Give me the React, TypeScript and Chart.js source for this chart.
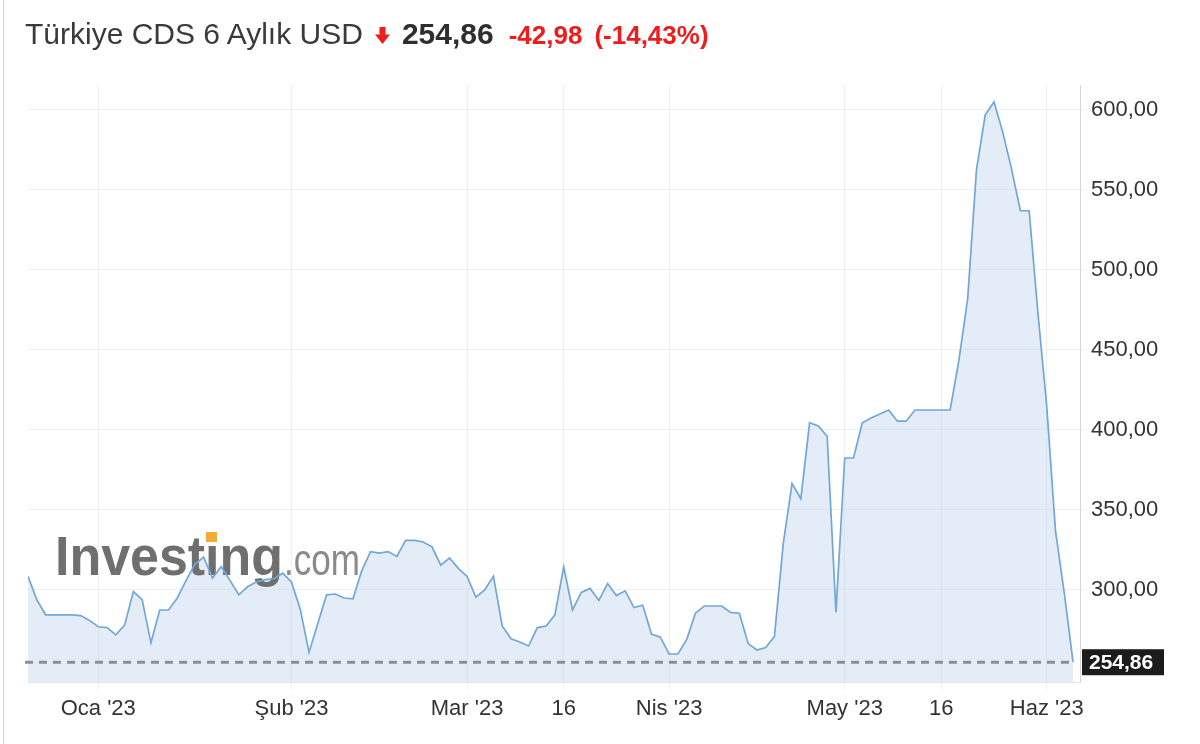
import React, { useEffect, useRef } from "react";
import { Chart, registerables } from "chart.js";

Chart.register(...registerables);

const TITLE = "Türkiye CDS 6 Aylık USD";
const LAST_VALUE = 254.86;
const CHANGE = -42.98;
const CHANGE_PCT = -14.43;

const VALUES: number[] = [
  308.5, 294, 284.5, 284.5, 284.5, 284.5, 284, 281, 277, 276.5,
  272, 278, 299, 294, 267, 287.5, 287.5, 295, 306, 316,
  320.5, 307.5, 314.5, 306, 297, 302, 305, 306.5, 307, 310.5,
  305, 288, 261, 279, 297, 297.5, 295, 294.5, 312, 324,
  323, 324, 321, 331, 331, 330, 327, 315.5, 320, 313.5,
  308.5, 295.5, 300, 308.5, 277.5, 269.5, 267.5, 265, 276.5, 277.5,
  284.5, 314.5, 287.5, 298.5, 301, 293.5, 304, 296.5, 299.5, 289,
  290.5, 272.5, 270.5, 260, 260, 269, 285.5, 290, 290, 290,
  286, 285.5, 266.5, 262.5, 264, 271, 329, 366.5, 357, 404.5,
  402.5, 396, 286, 382.5, 382.5, 404.5, 407.5, 410, 412.5, 405.5,
  405.5, 412.5, 412.5, 412.5, 412.5, 412.5, 443.5, 482, 562.5, 597,
  605, 586, 563, 537, 537, 473, 415, 337, 298, 254.86,
];

const X_TICK_INDEX = [8, 30, 50, 61, 73, 93, 104, 116];
const X_TICK_LABELS = ["Oca '23", "Şub '23", "Mar '23", "16", "Nis '23", "May '23", "16", "Haz '23"];
const Y_TICKS = [300, 350, 400, 450, 500, 550, 600];
const Y_MIN = 242.5;
const Y_MAX = 615.6;

const FONT = '"Liberation Sans", Arial, Helvetica, sans-serif';
const fmt = (v: number) => v.toFixed(2).replace(".", ",");

export default function App() {
  const ref = useRef<HTMLCanvasElement | null>(null);

  useEffect(() => {
    if (!ref.current) return;

    const overlay = {
      id: "overlay",
      afterDatasetDraw(chart: any, args: any) {
        if (args.index !== 0) return;
        const { ctx, chartArea, scales } = chart;
        ctx.save();
        // watermark
        ctx.textBaseline = "alphabetic";
        ctx.fillStyle = "#6f6f6f";
        ctx.font = `bold 56px ${FONT}`;
        ctx.fillText("Investing", chartArea.left + 27, 575, 228);
        ctx.fillStyle = "#8a8a8a";
        ctx.font = `44px ${FONT}`;
        ctx.fillText(".com", chartArea.left + 256, 575, 76);
        ctx.fillStyle = "#f5a938";
        ctx.fillRect(chartArea.left + 178, 532, 11, 10);
        // dashed last value line
        const y = scales.y.getPixelForValue(LAST_VALUE);
        const x1 = scales.x.getPixelForValue(VALUES.length - 1);
        ctx.setLineDash([8, 6]);
        ctx.lineWidth = 3;
        ctx.strokeStyle = "#8e8e8e";
        ctx.beginPath();
        ctx.moveTo(chartArea.left - 3, y);
        ctx.lineTo(x1, y);
        ctx.stroke();
        ctx.restore();
      },
      afterDraw(chart: any) {
        const { ctx, chartArea, scales } = chart;
        const y = scales.y.getPixelForValue(LAST_VALUE);
        ctx.save();
        ctx.fillStyle = "#1c1c1c";
        ctx.fillRect(chartArea.right + 2, y - 13, 82, 26);
        ctx.fillStyle = "#ffffff";
        ctx.font = `bold 21px ${FONT}`;
        ctx.textBaseline = "middle";
        ctx.fillText(fmt(LAST_VALUE), chartArea.right + 9, y + 1);
        ctx.restore();
      },
    };

    const points = VALUES.map((v, i) => ({ x: i, y: v }));

    const chart = new Chart(ref.current, {
      type: "line",
      data: {
        datasets: [
          {
            data: points,
            order: 2,
            fill: "start",
            backgroundColor: "rgba(196,216,238,0.45)",
            borderWidth: 0,
            pointRadius: 0,
          },
          {
            data: points,
            order: 1,
            fill: false,
            borderColor: "#72a7d8",
            borderWidth: 1.7,
            pointRadius: 0,
          },
        ],
      },
      options: {
        animation: false,
        responsive: false,
        maintainAspectRatio: false,
        layout: { padding: { left: 28, top: 85, right: 0, bottom: 20 } },
        plugins: {
          legend: { display: false },
          tooltip: { enabled: false },
        },
        scales: {
          x: {
            type: "linear",
            min: 0,
            max: VALUES.length - 1 + 0.79,
            afterBuildTicks: (s: any) => {
              s.ticks = X_TICK_INDEX.map((v) => ({ value: v }));
            },
            afterFit: (s: any) => {
              s.height = 42;
            },
            ticks: {
              autoSkip: false,
              maxRotation: 0,
              padding: 6,
              color: "#333333",
              font: { family: FONT, size: 22 },
              callback: (_v: any, i: number) => X_TICK_LABELS[i] ?? "",
            },
            grid: { color: "#eeeeee", tickLength: 8, drawTicks: true },
            border: { display: true, color: "#e6e6e6" },
          },
          y: {
            position: "right",
            min: Y_MIN,
            max: Y_MAX,
            afterBuildTicks: (s: any) => {
              s.ticks = Y_TICKS.map((v) => ({ value: v }));
            },
            afterFit: (s: any) => {
              s.width = 120;
            },
            ticks: {
              padding: 5,
              color: "#333333",
              font: { family: FONT, size: 22 },
              callback: (v: any) => fmt(Number(v)),
            },
            grid: { color: "#f0f0f0", tickLength: 6, drawTicks: true },
            border: { display: true, color: "#d6d6d6" },
          },
        },
      },
      plugins: [overlay],
    } as any);

    return () => chart.destroy();
  }, []);

  const red = "#ee1c1c";

  return (
    <div
      style={{
        position: "absolute",
        left: 0,
        top: 0,
        width: 1200,
        height: 744,
        background: "#ffffff",
        fontFamily: FONT,
        overflow: "hidden",
      }}
    >
      <div style={{ position: "absolute", left: 3, top: 0, width: 1, height: 744, background: "#d4d4d4" }} />
      <div
        style={{
          position: "absolute",
          left: 25,
          top: 16,
          display: "flex",
          alignItems: "baseline",
          whiteSpace: "nowrap",
          lineHeight: "36px",
          zIndex: 1,
        }}
      >
        <span style={{ fontSize: 30, color: "#3a3a3a" }}>{TITLE}</span>
        <svg width="15" height="17" viewBox="0 0 15 17" style={{ marginLeft: 12 }}>
          <rect x="4.5" y="0" width="6" height="8" fill={red} />
          <polygon points="0,7.5 15,7.5 7.5,17" fill={red} />
        </svg>
        <span style={{ fontSize: 30, fontWeight: "bold", color: "#2e2e2e", marginLeft: 12 }}>{fmt(LAST_VALUE)}</span>
        <span style={{ fontSize: 26, fontWeight: "bold", color: red, marginLeft: 15 }}>{fmt(CHANGE)}</span>
        <span style={{ fontSize: 26, fontWeight: "bold", color: red, marginLeft: 12 }}>({fmt(CHANGE_PCT)}%)</span>
      </div>
      <canvas
        ref={ref}
        width={1200}
        height={744}
        style={{ position: "absolute", left: 0, top: 0, width: 1200, height: 744 }}
      />
    </div>
  );
}
